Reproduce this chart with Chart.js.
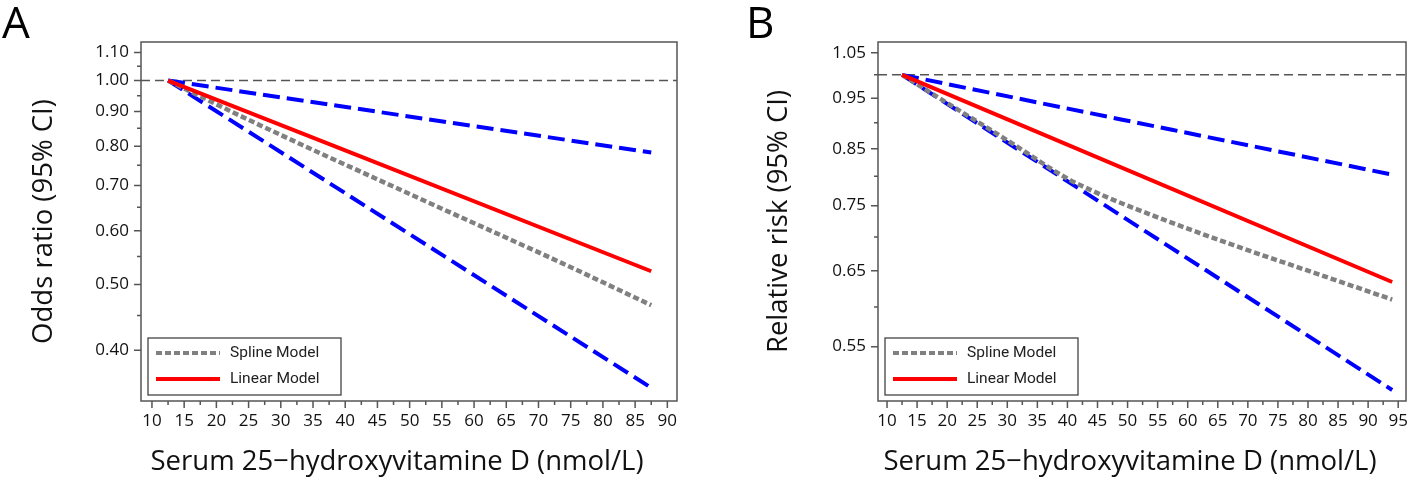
<!DOCTYPE html>
<html>
<head>
<meta charset="utf-8">
<script src="https://cdn.jsdelivr.net/npm/chart.js@4.4.1/dist/chart.umd.min.js"></script>
<style>
  html, body { margin: 0; padding: 0; background: #fff; }
  .panel { position: absolute; top: 0; width: 700px; height: 483px; }
  #wrapA { left: 0; }
  #wrapB { left: 718px; }
</style>
</head>
<body>
<div class="panel" id="wrapA"><canvas id="chartA"></canvas></div>
<div class="panel" id="wrapB"><canvas id="chartB"></canvas></div>
<script>
// ---- Panel A: odds ratio ----
const xSplineA = [12.5, 25, 50, 73.4, 87.5];
const splineA = [1.0, 0.875, 0.68, 0.539, 0.466];
const xLinA = [12.5, 87.5];
const linearA = [1.0, 0.523];
const upperA = [1.0, 0.783];
const lowerA = [1.0, 0.352];
const yTicksA = [1.10, 1.00, 0.90, 0.80, 0.70, 0.60, 0.50, 0.40];
const yMinorA = [1.05, 0.95, 0.85, 0.75, 0.65, 0.55, 0.45];
const xTicksA = [10, 15, 20, 25, 30, 35, 40, 45, 50, 55, 60, 65, 70, 75, 80, 85, 90];

// ---- Panel B: relative risk ----
const xSplineB = [12.5, 20, 30, 40, 45, 50, 60, 70, 80, 94];
const splineB = [1.0, 0.94, 0.866, 0.796, 0.771, 0.75, 0.713, 0.68, 0.65, 0.61];
const xLinB = [12.5, 94];
const linearB = [1.0, 0.634];
const upperB = [1.0, 0.803];
const lowerB = [1.0, 0.50];
const yTicksB = [1.05, 0.95, 0.85, 0.75, 0.65, 0.55];
const yMinorB = [1.00, 0.90, 0.80, 0.70, 0.60];
const xTicksB = [10, 15, 20, 25, 30, 35, 40, 45, 50, 55, 60, 65, 70, 75, 80, 85, 90, 95];

const refValue = 1.0;
const legendNames = ['Spline Model', 'Linear Model'];
const xTitle = 'Serum 25\u2212hydroxyvitamine D (nmol/L)';

const FONT = '"Open Sans", "Noto Sans", sans-serif';
const pts = (xs, ys) => xs.map((x, i) => ({ x: x, y: ys[i] }));

/* frame, reference line, minor ticks, legend, x title, panel letter */
const framePlugin = {
  id: 'frame',
  beforeDatasetsDraw(chart, args, o) {
    const { ctx, chartArea: a, scales: { y } } = chart;
    const yr = y.getPixelForValue(refValue);
    ctx.save();
    ctx.strokeStyle = '#555';
    ctx.lineWidth = 1.5;
    ctx.setLineDash([9, 5]);
    ctx.beginPath();
    ctx.moveTo(a.left, yr);
    ctx.lineTo(a.right, yr);
    ctx.stroke();
    ctx.restore();
  },
  afterDraw(chart, args, o) {
    const { ctx, chartArea: a, scales: { x, y } } = chart;
    ctx.save();
    ctx.strokeStyle = '#555';
    ctx.lineWidth = 1.5;
    ctx.strokeRect(a.left, a.top, a.right - a.left, a.bottom - a.top);
    ctx.beginPath();
    o.xTicks.forEach(v => {
      const px = x.getPixelForValue(v);
      ctx.moveTo(px, a.bottom); ctx.lineTo(px, a.bottom + 7);
    });
    o.xTicks.slice(0, -1).forEach((v, i) => {
      const px = x.getPixelForValue((v + o.xTicks[i + 1]) / 2);
      ctx.moveTo(px, a.bottom); ctx.lineTo(px, a.bottom + 4);
    });
    o.yTicks.forEach(v => {
      const py = y.getPixelForValue(v);
      ctx.moveTo(a.left, py); ctx.lineTo(a.left - 7, py);
    });
    o.yMinor.forEach(v => {
      const py = y.getPixelForValue(v);
      ctx.moveTo(a.left, py); ctx.lineTo(a.left - 4, py);
    });
    ctx.stroke();

    // legend
    const bx = a.left + 7, by = a.bottom - 63, bw = 193, bh = 57;
    ctx.fillStyle = '#fff';
    ctx.fillRect(bx, by, bw, bh);
    ctx.strokeStyle = '#444';
    ctx.lineWidth = 1.3;
    ctx.strokeRect(bx, by, bw, bh);
    ctx.lineWidth = 4;
    ctx.strokeStyle = '#808080';
    ctx.setLineDash([6, 3]);
    ctx.beginPath(); ctx.moveTo(bx + 8, by + 15); ctx.lineTo(bx + 72, by + 15); ctx.stroke();
    ctx.setLineDash([]);
    ctx.strokeStyle = '#ff0000';
    ctx.beginPath(); ctx.moveTo(bx + 8, by + 41); ctx.lineTo(bx + 72, by + 41); ctx.stroke();
    ctx.fillStyle = '#222';
    ctx.font = '15.5px Roboto, sans-serif';
    ctx.textBaseline = 'middle';
    ctx.fillText(legendNames[0], bx + 82, by + 15);
    ctx.fillText(legendNames[1], bx + 82, by + 41);

    // x axis title
    ctx.fillStyle = '#111';
    ctx.font = '27.5px ' + FONT;
    ctx.textAlign = 'center';
    ctx.fillText(xTitle, (a.left + a.right) / 2 - 12, 462);

    // panel letter
    ctx.fillStyle = '#000';
    ctx.font = '44px ' + FONT;
    ctx.textAlign = 'left';
    ctx.textBaseline = 'alphabetic';
    ctx.fillText(o.letter, o.letterX, 38);
    ctx.restore();
  }
};

function makeChart(id, cfg) {
  const datasets = [
    { data: pts(cfg.xLin, cfg.linear), borderColor: '#ff0000', borderWidth: 4, order: 1 },
    { data: pts(cfg.xSpline, cfg.spline), borderColor: '#808080', borderWidth: 4.5, borderDash: [6, 3], order: 2 },
    { data: pts(cfg.xLin, cfg.upper), borderColor: '#0000ff', borderWidth: 4, borderDash: [17, 7], order: 3 },
    { data: pts(cfg.xLin, cfg.lower), borderColor: '#0000ff', borderWidth: 4, borderDash: [17, 7], order: 4 }
  ];
  datasets.forEach(d => {
    d.pointRadius = 0; d.fill = false; d.tension = 0.4;
    d.cubicInterpolationMode = 'monotone'; d.borderCapStyle = 'butt';
  });

  return new Chart(document.getElementById(id).getContext('2d'), {
    type: 'line',
    data: { datasets: datasets },
    plugins: [framePlugin],
    options: {
      responsive: true,
      maintainAspectRatio: false,
      animation: false,
      layout: { padding: { top: 42, right: cfg.padRight, bottom: 0, left: 0 } },
      plugins: {
        legend: { display: false },
        tooltip: { enabled: false },
        frame: { xTicks: cfg.xTicks, yTicks: cfg.yTicks, yMinor: cfg.yMinor, letter: cfg.letter, letterX: cfg.letterX }
      },
      scales: {
        x: {
          type: 'linear',
          min: cfg.xMin, max: cfg.xMax,
          afterBuildTicks: s => { s.ticks = cfg.xTicks.map(v => ({ value: v })); },
          afterFit: s => { s.height = 82; },
          grid: { display: false, drawTicks: false },
          border: { display: false },
          ticks: { padding: 10, autoSkip: false, maxRotation: 0, color: '#111', font: { family: FONT, size: 17 }, callback: v => String(v) },
          title: { display: false }
        },
        y: {
          type: 'logarithmic',
          min: cfg.yMin, max: cfg.yMax,
          afterBuildTicks: s => { s.ticks = cfg.yTicks.map(v => ({ value: v })); },
          afterFit: s => { s.width = cfg.yWidth; },
          grid: { display: false, drawTicks: false },
          border: { display: false },
          ticks: { padding: 12, autoSkip: false, color: '#111', font: { family: FONT, size: 17 }, callback: v => Number(v).toFixed(2) },
          title: { display: true, text: cfg.yTitle, color: '#111', font: { family: FONT, size: 27.5 }, padding: { top: cfg.titlePad, bottom: 0 } }
        }
      }
    }
  });
}

makeChart('chartA', {
  xSpline: xSplineA, spline: splineA, xLin: xLinA, linear: linearA, upper: upperA, lower: lowerA,
  xTicks: xTicksA, yTicks: yTicksA, yMinor: yMinorA,
  xMin: 8.3, xMax: 91.5, yMin: 0.3365, yMax: 1.14,
  yWidth: 141, padRight: 23, titlePad: 28,
  yTitle: 'Odds ratio (95% CI)', letter: 'A', letterX: 2
});

makeChart('chartB', {
  xSpline: xSplineB, spline: splineB, xLin: xLinB, linear: linearB, upper: upperB, lower: lowerB,
  xTicks: xTicksB, yTicks: yTicksB, yMinor: yMinorB,
  xMin: 8.5, xMax: 96.3, yMin: 0.488, yMax: 1.075,
  yWidth: 160, padRight: 6, titlePad: 45,
  yTitle: 'Relative risk (95% CI)', letter: 'B', letterX: 28
});
</script>
</body>
</html>
